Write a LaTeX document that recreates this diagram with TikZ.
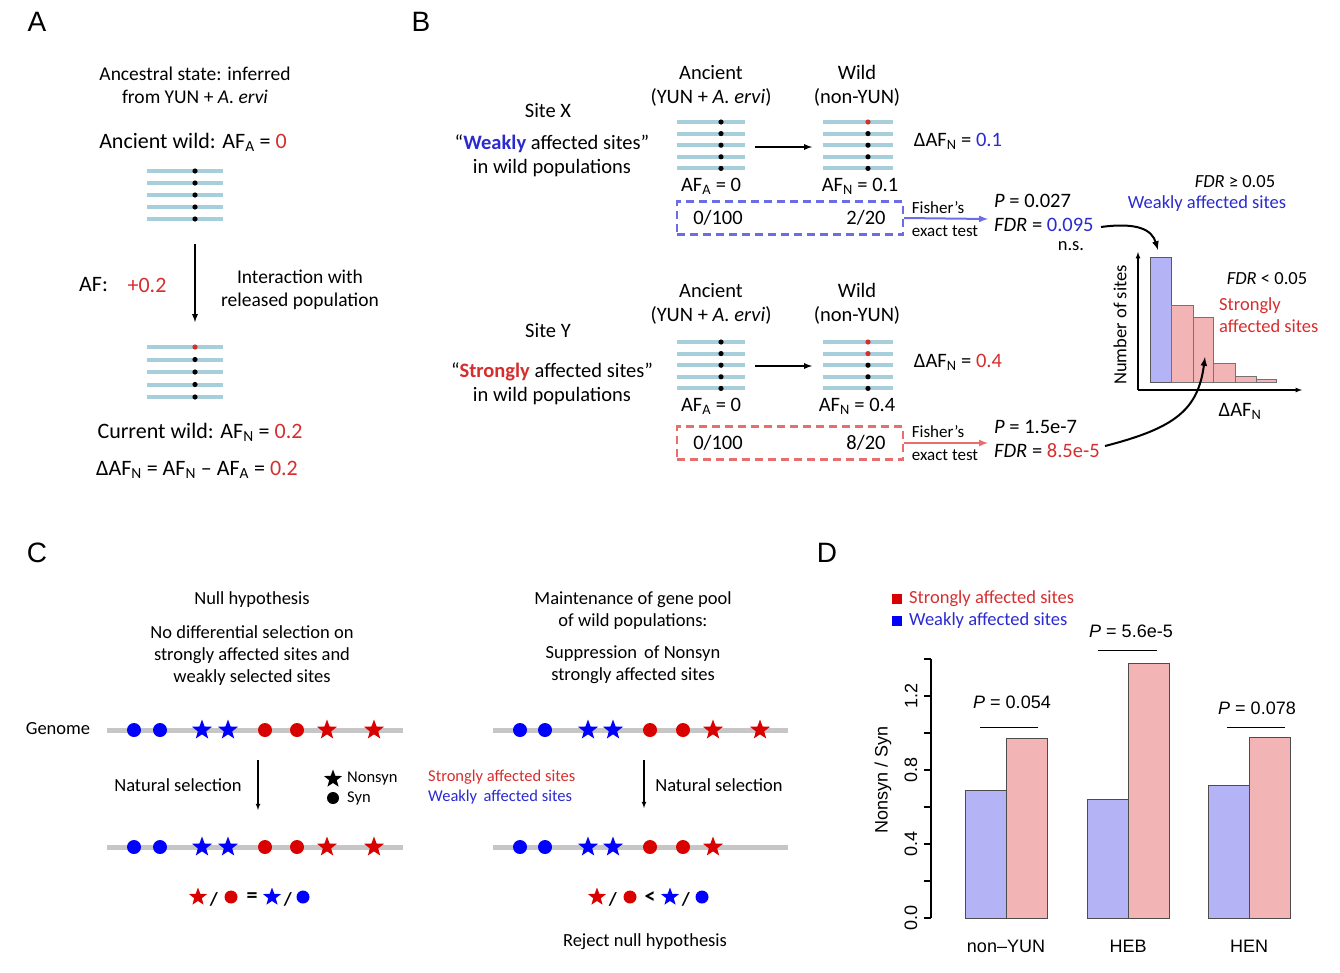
\documentclass[tikz,border=0pt]{standalone}
\usepackage{fontspec}
\setmainfont{Carlito}
\newfontfamily\arialfont{Liberation Sans}
\usetikzlibrary{shapes.geometric,positioning,calc}

\definecolor{hapblue}{HTML}{A6CEDB}
\definecolor{weakblue}{HTML}{2A2AD0}
\definecolor{strongred}{HTML}{D62E2E}
\definecolor{barblue}{HTML}{B3B3F5}
\definecolor{barred}{HTML}{F2B4B4}
\definecolor{boxblue}{HTML}{6C6CE4}
\definecolor{boxred}{HTML}{E86E6E}
\definecolor{genegray}{HTML}{C6C6C6}

\tikzset{
  txt/.style={font=\fontsize{19.5}{23}\selectfont, align=center, inner sep=0pt},
  midtxt/.style={font=\fontsize{20.5}{24}\selectfont, align=center, inner sep=0pt},
  bigtxt/.style={font=\fontsize{22}{24}\selectfont, inner sep=0pt},
  smalltxt/.style={font=\fontsize{17}{23}\selectfont, align=left, inner sep=0pt},
  ctxt/.style={font=\fontsize{18.5}{22}\selectfont, align=center, inner sep=0pt},
  legtxt/.style={font=\fontsize{16.5}{20}\selectfont, align=left, inner sep=0pt},
  rtxt/.style={font=\arialfont\fontsize{18}{22}\selectfont, inner sep=0pt},
  paneltag/.style={font=\arialfont\fontsize{28}{28}\selectfont, inner sep=0pt},
  optxt/.style={font=\bfseries\fontsize{22}{22}\selectfont, inner sep=0pt},
  hapline/.style={hapblue, line width=4pt},
  geneline/.style={genegray, line width=5pt},
  arr/.style={-latex, line width=1.7pt},
  thinarr/.style={-latex, line width=1.1pt},
  testarr/.style={-latex, line width=2pt},
  bdot/.style={circle, fill=blue, minimum size=14pt, inner sep=0pt},
  rdot/.style={circle, fill=red!85!black, minimum size=14pt, inner sep=0pt},
  bstar/.style={star, star points=5, star point ratio=2.4, fill=blue, minimum size=21pt, inner sep=0pt},
  rstar/.style={star, star points=5, star point ratio=2.4, fill=red!85!black, minimum size=21pt, inner sep=0pt},
  kstar/.style={star, star points=5, star point ratio=2.4, fill=black, minimum size=19pt, inner sep=0pt},
  kdot/.style={circle, fill=black, minimum size=12pt, inner sep=0pt},
  testbox/.style={dash pattern=on 8pt off 5pt, line width=2.4pt, minimum width=226pt, minimum height=33pt, inner sep=0pt}
}

% haplotype block: left x, top y, width, dot offset, spacing, red dots
\newcommand{\hapblock}[6]{%
  \foreach \k in {0,...,4}{%
    \ifnum\k<#6\relax\def\dotcol{strongred}\else\def\dotcol{black}\fi
    \draw[hapline] (#1,#2+#5*\k) -- ++(#3,0);
    \fill[\dotcol] (#1+#4,#2+#5*\k) circle (2.6);
  }%
}

\begin{document}
\begin{tikzpicture}[x=1pt, y=-1pt]
    \useasboundingbox (0,0) rectangle (1340,972);

    % ---------------- Panel A ----------------
    \node[paneltag] (tagA) at (37,22) {A};
    \node[txt] (ancState) at (195,85) {Ancestral state: inferred\\from YUN + \textit{A. ervi}};
    \node[bigtxt] (ancWild) at (193,142) {Ancient wild: AF\textsubscript{A} = \textcolor{strongred}{0}};
    \hapblock{147}{171}{76}{48}{12}{0}
    \coordinate (aTop) at (195,244);
    \coordinate (aBot) at (195,322);
    \draw[arr] (aTop) -- (aBot);
    \node[bigtxt, anchor=west] (afLab) at (79,285) {AF:};
    \node[bigtxt, strongred] (afPlus) at (147,285) {+0.2};
    \node[txt] (interact) at (300,290) {Interaction with\\released population};
    \hapblock{147}{347}{76}{48}{12.5}{1}
    \node[bigtxt] (curWild) at (200,432) {Current wild: AF\textsubscript{N} = \textcolor{strongred}{0.2}};
    \node[bigtxt] (deltaAF) at (197,470) {ΔAF\textsubscript{N} = AF\textsubscript{N} – AF\textsubscript{A} = \textcolor{strongred}{0.2}};

    % ---------------- Panel B ----------------
    \node[paneltag] (tagB) at (421,22) {B};

    % site X
    \node[midtxt] (siteX) at (548,111) {Site X};
    \node[midtxt] (weakLab) at (552,156) {“\textcolor{weakblue}{\textbf{Weakly}} affected sites”\\in wild populations};
    \node[midtxt] (ancX) at (711,86) {Ancient\\(YUN + \textit{A. ervi})};
    \node[midtxt] (wildX) at (857,86) {Wild\\(non-YUN)};
    \hapblock{677}{122}{68}{44}{11.6}{0}
    \hapblock{823}{122}{70}{45}{11.6}{1}
    \coordinate (ancXr) at (755,147);
    \coordinate (wildXl) at (812,147);
    \draw[arr] (ancXr) -- (wildXl);
    \node[midtxt] (afAX) at (711,186) {AF\textsubscript{A} = 0};
    \node[midtxt] (afNX) at (860,186) {AF\textsubscript{N} = 0.1};
    \node[midtxt] (dAFX) at (958,141) {ΔAF\textsubscript{N} = \textcolor{weakblue}{0.1}};
    \node[testbox, draw=boxblue] (boxX) at (790,218) {};
    \node[midtxt] (cntAX) at (718,218) {0/100};
    \node[midtxt] (cntNX) at (866,218) {2/20};
    \node[smalltxt] (fisherX) at (945,219) {Fisher’s\\exact test};
    \coordinate (fisherXr) at (988,219);
    \draw[boxblue, testarr] (boxX.east) -- (fisherXr);
    \node[midtxt, align=left, anchor=west] (fdrX) at (994,213) {\textit{P} = 0.027\\\textit{FDR} = \textcolor{weakblue}{0.095}};
    \node[ctxt] (nsX) at (1071,246) {n.s.};

    % site Y
    \node[midtxt] (siteY) at (548,331) {Site Y};
    \node[midtxt] (strongLab) at (552,384) {“\textcolor{strongred}{\textbf{Strongly}} affected sites”\\in wild populations};
    \node[midtxt] (ancY) at (711,304) {Ancient\\(YUN + \textit{A. ervi})};
    \node[midtxt] (wildY) at (857,304) {Wild\\(non-YUN)};
    \hapblock{677}{342}{68}{44}{11.6}{0}
    \hapblock{823}{342}{70}{45}{11.6}{2}
    \coordinate (ancYr) at (755,366);
    \coordinate (wildYl) at (812,366);
    \draw[arr] (ancYr) -- (wildYl);
    \node[midtxt] (afAY) at (711,406) {AF\textsubscript{A} = 0};
    \node[midtxt] (afNY) at (857,406) {AF\textsubscript{N} = 0.4};
    \node[midtxt] (dAFY) at (958,362) {ΔAF\textsubscript{N} = \textcolor{strongred}{0.4}};
    \node[testbox, draw=boxred] (boxY) at (790,443) {};
    \node[midtxt] (cntAY) at (718,443) {0/100};
    \node[midtxt] (cntNY) at (866,443) {8/20};
    \node[smalltxt] (fisherY) at (945,443) {Fisher’s\\exact test};
    \coordinate (fisherYr) at (988,443);
    \draw[boxred, testarr] (boxY.east) -- (fisherYr);
    \node[midtxt, align=left, anchor=west] (fdrY) at (994,439) {\textit{P} = 1.5e-7\\\textit{FDR} = \textcolor{strongred}{8.5e-5}};

    % histogram of delta AF
    \draw[fill=barblue, draw=black!65] (1150,382) rectangle (1171,257);
    \foreach \xa/\xb/\yt in {1171/1193/305, 1193/1213/317, 1213/1235/363, 1235/1256/376, 1256/1276/379}
        \draw[fill=barred, draw=black!55] (\xa,382) rectangle (\xb,\yt);
    \coordinate (origin) at (1138,390);
    \coordinate (yTip) at (1138,252);
    \coordinate (xTip) at (1302,390);
    \draw[-latex, line width=1.2pt] (origin) -- (yTip);
    \draw[-latex, line width=1.2pt] (origin) -- (xTip);
    \node[ctxt, rotate=90] (numSites) at (1120,325) {Number of sites};
    \node[midtxt] (dAFaxis) at (1240,411) {ΔAF\textsubscript{N}};
    \node[ctxt] (fdrHigh) at (1235,182) {\textit{FDR} ≥ 0.05};
    \node[ctxt, weakblue] (weakHist) at (1207,204) {Weakly affected sites};
    \node[ctxt] (fdrLow) at (1267,279) {\textit{FDR} < 0.05};
    \node[ctxt, strongred, align=left, anchor=west] (strongHist) at (1219,315) {Strongly\\affected sites};

    % curved arrows into the histogram
    \coordinate (weakBar) at (1158,250);
    \coordinate (strongBar) at (1205,357);
    \draw[-latex, line width=2pt] (1101,227) .. controls (1138,222) and (1152,230) .. (weakBar);
    \draw[-latex, line width=2pt] (1105,446) .. controls (1175,428) and (1198,410) .. (strongBar);

    % ---------------- Panel C ----------------
    \node[paneltag] (tagC) at (37,553) {C};
    \node[ctxt] (nullHyp) at (252,600) {Null hypothesis};
    \node[ctxt] (nullText) at (252,656) {No differential selection on\\strongly affected sites and\\weakly selected sites};
    \node[ctxt] (genome) at (58,729) {Genome};
    \draw[geneline] (107,730) -- (403,730);
    \draw[geneline] (107,847) -- (403,847);
    \foreach \p/\s [count=\i] in {134/bdot, 160/bdot, 202/bstar, 228/bstar, 265/rdot, 297/rdot, 327/rstar, 374/rstar}{
        \node[\s] (nullTop\i) at (\p,730) {};
        \node[\s] (nullBot\i) at (\p,847) {};
    }
    \coordinate (nullA) at (258,760);
    \coordinate (nullB) at (258,810);
    \draw[thinarr] (nullA) -- (nullB);
    \node[ctxt] (natSelL) at (178,785) {Natural selection};
    \node[kstar] (legStar) at (333,779) {};
    \node[kdot] (legDot) at (333,798) {};
    \node[legtxt, anchor=west] (legNonsyn) at (347,779) {Nonsyn};
    \node[legtxt, anchor=west] (legSyn) at (347,798) {Syn};
    % ratio equation
    \node[rstar, minimum size=19pt] (eqL1) at (198,897) {};
    \node[ctxt] (eqL2) at (214,899) {\textbf{/}};
    \node[rdot, minimum size=13pt] (eqL3) at (231,897) {};
    \node[optxt] (eqL4) at (252,898) {=};
    \node[bstar, minimum size=19pt] (eqL5) at (272,897) {};
    \node[ctxt] (eqL6) at (288,899) {\textbf{/}};
    \node[bdot, minimum size=13pt] (eqL7) at (303,897) {};

    % right half of C
    \node[ctxt] (maintain) at (633,611) {Maintenance of gene pool\\of wild populations:};
    \node[ctxt] (suppress) at (633,665) {Suppression\, of Nonsyn\\strongly affected sites};
    \draw[geneline] (493,730) -- (788,730);
    \draw[geneline] (493,847) -- (788,847);
    \foreach \p/\s [count=\i] in {520/bdot, 545/bdot, 588/bstar, 613/bstar, 650/rdot, 683/rdot, 713/rstar, 760/rstar}
        \node[\s] (altTop\i) at (\p,730) {};
    \foreach \p/\s [count=\i] in {520/bdot, 545/bdot, 588/bstar, 613/bstar, 650/rdot, 683/rdot, 713/rstar}
        \node[\s] (altBot\i) at (\p,847) {};
    \coordinate (altA) at (644,760);
    \coordinate (altB) at (644,808);
    \draw[thinarr] (altA) -- (altB);
    \node[ctxt] (natSelR) at (719,785) {Natural selection};
    \node[legtxt, strongred, anchor=west] (legStrong) at (428,777) {Strongly affected sites};
    \node[legtxt, weakblue, anchor=west] (legWeak) at (428,797) {Weakly\, affected sites};
    \node[rstar, minimum size=19pt] (eqR1) at (597,897) {};
    \node[ctxt] (eqR2) at (613,899) {\textbf{/}};
    \node[rdot, minimum size=13pt] (eqR3) at (630,897) {};
    \node[optxt] (eqR4) at (650,898) {<};
    \node[bstar, minimum size=19pt] (eqR5) at (670,897) {};
    \node[ctxt] (eqR6) at (686,899) {\textbf{/}};
    \node[bdot, minimum size=13pt] (eqR7) at (702,897) {};
    \node[ctxt] (reject) at (645,942) {Reject null hypothesis};

    % ---------------- Panel D ----------------
    \node[paneltag] (tagD) at (827,553) {D};
    \fill[red!85!black] (892,594) rectangle (902,604);
    \fill[blue] (892,616) rectangle (902,626);
    \node[ctxt, strongred, anchor=west] (legD1) at (909,599) {Strongly affected sites};
    \node[ctxt, weakblue, anchor=west] (legD2) at (909,621) {Weakly affected sites};

    % y axis (0 -> 918, 1 unit = 185)
    \draw[line width=1.2pt] (931,918) -- (931,659);
    \foreach \i in {0,...,7}
        \draw[line width=1.2pt] (931,918-37*\i) -- (924,918-37*\i);
    \foreach \v/\lab in {0/0.0, 2/0.4, 4/0.8, 6/1.2}
        \node[rtxt, rotate=90] (tick\v) at (911,918-37*\v) {\lab};
    \node[rtxt, rotate=90] (yLab) at (883,780) {Nonsyn / Syn};

    % bars: left x / weak / strong / label
    \foreach \x/\b/\r/\lab in {965/0.69/0.97/non–YUN, 1087/0.64/1.38/HEB, 1208/0.72/0.98/HEN}{
        \draw[fill=barblue, draw=black!70] (\x,918) rectangle (\x+41,918-185*\b);
        \draw[fill=barred, draw=black!70] (\x+41,918) rectangle (\x+82,918-185*\r);
        \node[rtxt] (grp\x) at (\x+41,946) {\lab};
    }

    % significance lines
    \draw[line width=1pt] (980,727) -- (1038,727);
    \draw[line width=1pt] (1098,650) -- (1157,650);
    \draw[line width=1pt] (1227,727) -- (1285,727);
    \node[rtxt] (pNon) at (1012,702) {\textit{P} = 0.054};
    \node[rtxt] (pHeb) at (1131,631) {\textit{P} = 5.6e-5};
    \node[rtxt] (pHen) at (1257,708) {\textit{P} = 0.078};
\end{tikzpicture}
\end{document}
